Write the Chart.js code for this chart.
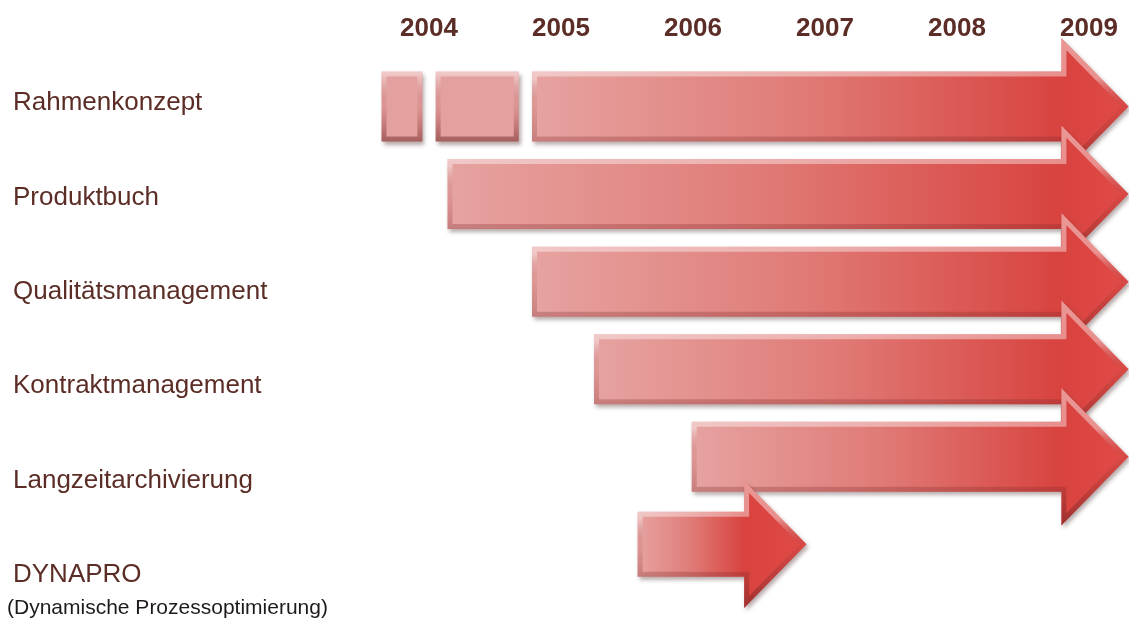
<!DOCTYPE html>
<html>
<head>
<meta charset="utf-8">
<script src="https://cdn.jsdelivr.net/npm/chart.js@4.4.1/dist/chart.umd.min.js"></script>
<style>
  html, body { margin: 0; padding: 0; background: #fff; }
  #wrap { width: 1129px; height: 619px; }
</style>
</head>
<body>
<div id="wrap"><canvas id="roadmap"></canvas></div>
<script>
// Zeitachse
const years = [2004, 2005, 2006, 2007, 2008, 2009];
const rowLabels = ['Rahmenkonzept', 'Produktbuch', 'Qualitätsmanagement', 'Kontraktmanagement', 'Langzeitarchivierung', 'DYNAPRO'];
const rowNote = '(Dynamische Prozessoptimierung)';

// Vorphasen (Rahmenkonzept)
const phaseRows = [0, 0];
const phaseSpans = [[2003.64, 2003.95], [2004.05, 2004.68]];

// Laufzeiten als Pfeile
const arrowRows = [0, 1, 2, 3, 4];
const arrowSpans = [[2004.78, 2009.3], [2004.14, 2009.3], [2004.78, 2009.3], [2005.25, 2009.3], [2005.99, 2009.3]];

// Pilotprojekt DYNAPRO
const pilotRows = [5];
const pilotSpans = [[2005.58, 2006.86]];

const toPoints = (rows, spans) => rows.map((r, i) => ({ y: r, x: spans[i] }));

const FONT = "'Liberation Sans', Arial, sans-serif";
const BROWN = '#5b2d26';
const NONE = 'rgba(0,0,0,0)';

function shapePath(ctx, x0, x1, yc, h, arrow) {
  const half = h / 2;
  ctx.beginPath();
  if (!arrow) {
    ctx.rect(x0, yc - half, x1 - x0, h);
    return;
  }
  const hh = h * 0.98, hl = h * 0.96;
  const xb = x1 - hl;
  ctx.moveTo(x0, yc - half);
  ctx.lineTo(xb, yc - half);
  ctx.lineTo(xb, yc - hh);
  ctx.lineTo(x1, yc);
  ctx.lineTo(xb, yc + hh);
  ctx.lineTo(xb, yc + half);
  ctx.lineTo(x0, yc + half);
  ctx.closePath();
}

function drawShape(ctx, el, arrow) {
  const { x, y, base, height } = el.getProps(['x', 'y', 'base', 'height'], true);
  const x0 = Math.min(x, base), x1 = Math.max(x, base);
  const hh = arrow ? height * 0.98 : height / 2;
  let fill;
  if (arrow) {
    const xb = x1 - height * 0.96;
    fill = ctx.createLinearGradient(x0, 0, x1, 0);
    const f = (xb - x0) / (x1 - x0);
    fill.addColorStop(0, '#e6a3a1');
    fill.addColorStop(f * 0.5, '#e07c78');
    fill.addColorStop(f, '#d8433f');
    fill.addColorStop(1, '#e04b47');
  } else {
    fill = '#e4a09e';
  }
  // Schatten
  ctx.save();
  ctx.shadowColor = 'rgba(70,40,40,0.4)';
  ctx.shadowBlur = 4;
  ctx.shadowOffsetX = 2;
  ctx.shadowOffsetY = 3;
  shapePath(ctx, x0, x1, y, height, arrow);
  ctx.fillStyle = fill;
  ctx.fill();
  ctx.restore();
  // Abschrägung
  ctx.save();
  shapePath(ctx, x0, x1, y, height, arrow);
  ctx.clip();
  const bev = ctx.createLinearGradient(0, y - hh, 0, y + hh);
  const top = (hh - height / 2) / (2 * hh);
  bev.addColorStop(0, 'rgba(255,255,255,0.45)');
  bev.addColorStop(Math.min(top + 0.05, 0.45), 'rgba(255,255,255,0.4)');
  bev.addColorStop(0.5, 'rgba(150,50,50,0.1)');
  bev.addColorStop(1, 'rgba(100,30,30,0.5)');
  shapePath(ctx, x0, x1, y, height, arrow);
  ctx.lineWidth = 10;
  ctx.strokeStyle = bev;
  ctx.stroke();
  ctx.restore();
}

const shapesPlugin = {
  id: 'shapes',
  afterDatasetsDraw(chart) {
    const ctx = chart.ctx;
    chart.data.datasets.forEach((ds, i) => {
      const meta = chart.getDatasetMeta(i);
      meta.data.forEach(el => drawShape(ctx, el, ds.shape === 'arrow'));
    });
  },
  afterDraw(chart) {
    const ctx = chart.ctx;
    const yl = chart.scales.yl;
    const py = yl.getPixelForValue(rowLabels.length - 1);
    ctx.save();
    ctx.font = '21px ' + FONT;
    ctx.fillStyle = '#1e1a1a';
    ctx.textBaseline = 'middle';
    ctx.fillText(rowNote, 7, py + 33);
    ctx.restore();
  }
};

const ctx = document.getElementById('roadmap').getContext('2d');
new Chart(ctx, {
  type: 'bar',
  data: {
    datasets: [
      { label: 'Vorphasen', shape: 'box', data: toPoints(phaseRows, phaseSpans), barThickness: 70, backgroundColor: NONE, borderColor: NONE },
      { label: 'Laufzeit', shape: 'arrow', data: toPoints(arrowRows, arrowSpans), barThickness: 70, backgroundColor: NONE, borderColor: NONE },
      { label: 'DYNAPRO', shape: 'arrow', data: toPoints(pilotRows, pilotSpans), barThickness: 65, backgroundColor: NONE, borderColor: NONE }
    ]
  },
  options: {
    indexAxis: 'y',
    responsive: true,
    maintainAspectRatio: false,
    animation: false,
    datasets: { bar: { grouped: false, borderWidth: 0 } },
    layout: { padding: { left: 13, right: 0, top: 0, bottom: 44 } },
    plugins: { colors: { enabled: false }, legend: { display: false }, tooltip: { enabled: false } },
    scales: {
      x: {
        type: 'linear',
        position: 'top',
        min: 2003.477,
        max: 2009.303,
        afterBuildTicks: axis => { axis.ticks = years.map(v => ({ value: v })); },
        afterFit: axis => { axis.height = 103; axis.paddingLeft = 0; axis.paddingRight = 0; },
        grid: { display: false },
        border: { display: false },
        ticks: {
          padding: 51,
          color: BROWN,
          font: { family: FONT, size: 26, weight: 'bold' },
          callback: v => String(v)
        }
      },
      y: {
        type: 'linear',
        display: false,
        offset: false,
        reverse: true,
        min: -0.04,
        max: 5.35
      },
      yl: {
        type: 'category',
        labels: rowLabels,
        position: 'left',
        offset: false,
        afterFit: axis => { axis.width = 347; },
        grid: { display: false },
        border: { display: false },
        ticks: {
          autoSkip: false,
          crossAlign: 'far',
          padding: 0,
          color: BROWN,
          font: { family: FONT, size: 26 }
        }
      }
    }
  },
  plugins: [shapesPlugin]
});
</script>
</body>
</html>
